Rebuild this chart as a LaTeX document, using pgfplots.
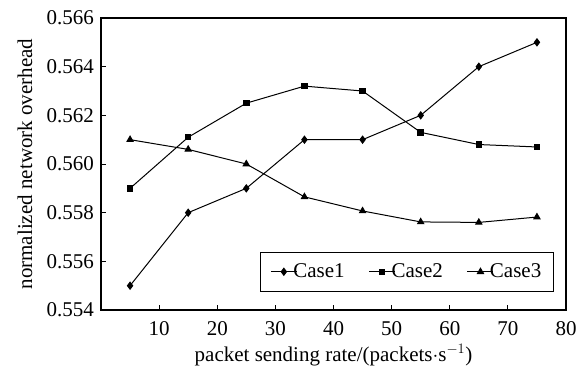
\documentclass[border=0pt]{standalone}
\usepackage{fontspec}
\setmainfont{Liberation Serif}
\usepackage{pgfplots}
\pgfplotsset{compat=1.18}
\begin{document}
\fontsize{21}{24}\selectfont
\begin{tikzpicture}
\begin{axis}[
  name=ax,
  scale only axis,
  width=465pt, height=292pt,
  xmin=0, xmax=80, ymin=0.554, ymax=0.566,
  xtick={10,20,...,80},
  ytick={0.554,0.556,0.558,0.560,0.562,0.564,0.566},
  scaled y ticks=false,
  yticklabel style={/pgf/number format/fixed,/pgf/number format/fixed zerofill,/pgf/number format/precision=3},
  xticklabel style={yshift=-4pt},
  /pgf/number format/assume math mode=true,
  tick pos=left, tick align=inside,
  major tick length=5pt,
  axis line style={line width=1.2pt},
  tick style={line width=0.8pt, black},
  xlabel={packet sending rate/(packets$\cdot$s$^{-1}$)},
  ylabel={normalized network overhead},
  xlabel style={yshift=5pt},
  ylabel style={yshift=0pt},
  every axis plot/.append style={black, line width=1pt},
  legend columns=3,
  legend style={at={(0.974,0.062)}, anchor=south east, draw=black, line width=1.2pt, inner xsep=10pt, inner ysep=9pt, /tikz/every even column/.append style={column sep=22pt}},
  legend image code/.code={\draw[#1,line width=1pt] (0pt,0pt) -- (26pt,0pt); \draw[#1,mark repeat=1] plot coordinates {(13pt,0pt)};},
]
\addplot[mark=diamond*, mark size=3.5pt] coordinates {(5,0.555) (15,0.558) (25,0.559) (35,0.561) (45,0.561) (55,0.562) (65,0.564) (75,0.565)};
\addlegendentry{\kern-6pt Case1}
\addplot[mark=square*, mark size=2.7pt] coordinates {(5,0.559) (15,0.5611) (25,0.5625) (35,0.5632) (45,0.5630) (55,0.5613) (65,0.5608) (75,0.5607)};
\addlegendentry{\kern-6pt Case2}
\addplot[mark=triangle*, mark size=3.5pt] coordinates {(5,0.5610) (15,0.5606) (25,0.5600) (35,0.55865) (45,0.55807) (55,0.55762) (65,0.5576) (75,0.55782)};
\addlegendentry{\kern-6pt Case3}
\end{axis}
\pgfresetboundingbox
\path ([shift={(-101pt,-57pt)}]ax.south west) rectangle ([shift={(18pt,18pt)}]ax.north east);
\end{tikzpicture}
\end{document}
